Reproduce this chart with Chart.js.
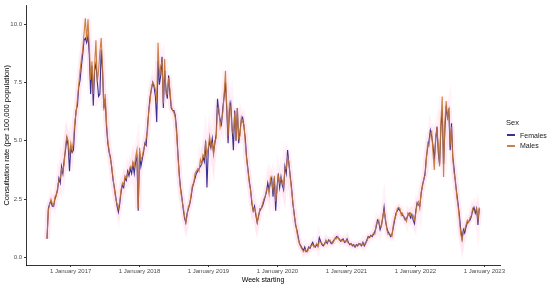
<!DOCTYPE html>
<html>
<head>
<meta charset="utf-8">
<script src="https://cdn.jsdelivr.net/npm/chart.js@4/dist/chart.umd.min.js"></script>
<style>
  html, body { margin: 0; padding: 0; background: #fff; }
  #wrap { position: relative; width: 550px; height: 285px; }
  #legend { position: absolute; left: 506px; top: 118px; font-family: "Liberation Sans", Arial, sans-serif; font-size: 7px; color: #1a1a1a; }
  #legend .ttl { margin-bottom: 3px; font-size: 7.5px; }
  #legend .row { display: flex; align-items: center; height: 10.5px; }
  #legend .key { display: inline-block; width: 8px; height: 2px; margin: 0 5px 0 1px; }
</style>
</head>
<body>
<div id="wrap">
  <canvas id="chart" width="550" height="285"></canvas>
  <div id="legend"></div>
</div>
<script>
// 週の開始日（最初のデータ点）
const weekStart = '2016-08-29';

// 目盛り
const tickDates = ['2017-01-01', '2018-01-01', '2019-01-01', '2020-01-01', '2021-01-01', '2022-01-01', '2023-01-01'];
const tickLabels = ['1 January 2017', '1 January 2018', '1 January 2019', '1 January 2020', '1 January 2021', '1 January 2022', '1 January 2023'];
const yTicks = [0, 2.5, 5, 7.5, 10];

const seriesNames = ['Females', 'Males'];

// 女性（週ごと）
const females = [
  0.8, 2.1, 2.3, 2.4, 2.2, 2.2, 2.5, 2.7, 2.9, 3.4,
  3.2, 3.9, 3.6, 4.2, 4.6, 5.1, 4.8, 3.7, 4.7, 4.5,
  4.6, 5.6, 6.3, 6.5, 7.3, 7.6, 8.2, 8.7, 9.3, 9.4,
  9.2, 9.5, 8.7, 7.0, 8.2, 6.5, 8.0, 8.3, 7.6, 6.9,
  7.0, 8.9, 8.0, 6.4, 6.8, 5.6, 4.9, 4.5, 4.3, 3.8,
  3.3, 3.0, 2.6, 2.2, 1.95, 2.3, 2.8, 3.1, 3.0, 3.4,
  3.3, 3.7, 3.5, 3.8, 3.6, 4.0, 3.6, 4.1, 4.3, 2.0,
  4.5, 3.9, 4.2, 4.5, 4.9, 4.8, 5.6, 6.3, 6.9, 7.2,
  7.5, 7.3, 6.9, 5.8, 8.4, 7.4, 7.8, 8.6, 6.4, 8.0,
  7.2, 6.8, 7.8, 7.0, 6.4, 6.3, 6.3, 6.1, 5.5, 4.5,
  3.6, 3.0, 2.6, 2.1, 1.7, 1.5, 1.9, 2.1, 2.3, 2.6,
  3.0, 3.2, 3.4, 3.6, 3.7, 3.8, 3.9, 4.0, 4.3, 4.1,
  5.0, 3.0, 4.6, 5.0, 4.7, 5.1, 4.5, 4.9, 5.3, 6.8,
  6.2, 5.9, 5.7, 6.4, 6.9, 7.5, 6.3, 4.9, 6.3, 6.6,
  5.6, 4.6, 6.3, 5.0, 6.4, 4.9, 5.4, 5.9, 6.0, 5.6,
  5.1, 4.3, 3.8, 3.3, 2.9, 2.3, 2.0, 2.2, 1.8, 1.5,
  1.8, 2.0, 2.1, 2.2, 2.4, 2.6, 2.8, 3.2, 2.9, 3.2,
  3.4, 2.6, 3.4, 2.0, 3.0, 3.6, 3.0, 3.45, 3.1, 2.9,
  3.9, 3.6, 4.6, 4.0, 3.5, 3.0, 2.3, 1.9, 1.4, 1.2,
  0.9, 0.6, 0.5, 0.4, 0.3, 0.45, 0.25, 0.3, 0.45, 0.4,
  0.55, 0.65, 0.5, 0.45, 0.55, 0.5, 0.85, 0.7, 0.55, 0.5,
  0.6, 0.7, 0.6, 0.75, 0.7, 0.6, 0.65, 0.75, 0.8, 0.9,
  0.85, 0.8, 0.7, 0.75, 0.8, 0.65, 0.7, 0.8, 0.65, 0.55,
  0.6, 0.5, 0.55, 0.45, 0.55, 0.5, 0.6, 0.55, 0.5, 0.65,
  0.5, 0.6, 0.75, 0.9, 0.85, 0.95, 0.9, 1.0, 1.1, 1.3,
  1.6, 1.5, 1.2, 1.4, 1.7, 2.15, 1.6, 1.3, 1.1, 1.0,
  0.9, 1.0, 1.3, 1.6, 1.9, 2.0, 2.1, 2.0, 1.9, 1.8,
  1.75, 1.6, 1.65, 1.8, 1.9, 1.7, 1.85, 1.6, 1.45, 2.0,
  2.35, 2.25, 2.2, 2.7, 3.1, 3.3, 3.6, 4.3, 4.7, 5.0,
  5.45, 5.2, 4.8, 4.2, 5.0, 5.6, 4.5, 4.0, 5.6, 6.3,
  4.0, 5.5, 6.5, 6.0, 6.3, 4.6, 5.75, 4.3, 3.8, 3.2,
  2.75, 2.3, 1.8, 1.2, 0.8, 1.2, 1.05, 1.3, 1.5, 1.55,
  1.6, 1.75, 2.0, 2.15, 1.9, 2.1, 1.4, 2.1
];

// 男性（週ごと）
const males = [
  0.8, 2.0, 2.3, 2.5, 2.3, 2.2, 2.6, 2.6, 3.0, 3.3,
  3.4, 3.8, 3.7, 4.0, 4.8, 5.2, 5.0, 4.3, 4.9, 4.6,
  5.0, 5.8, 6.2, 6.8, 7.4, 8.0, 8.5, 8.9, 9.6, 10.25,
  9.3, 10.2, 9.0, 7.6, 8.4, 7.0, 8.2, 9.3, 7.5, 8.0,
  8.8, 9.4, 8.2, 6.3, 7.0, 5.8, 5.0, 4.6, 4.2, 3.9,
  3.4, 2.9, 2.5, 2.3, 2.1, 2.4, 2.9, 3.2, 3.1, 3.5,
  3.4, 3.6, 3.7, 3.9, 3.8, 4.1, 3.9, 4.3, 4.6, 2.1,
  4.7, 4.2, 4.3, 4.6, 4.8, 5.1, 5.4, 6.3, 6.7, 7.3,
  7.5, 7.4, 7.2, 6.7, 9.2, 7.7, 8.2, 8.4, 6.6, 8.5,
  7.0, 7.0, 7.7, 7.2, 6.5, 6.3, 6.2, 6.0, 5.3, 4.4,
  3.5, 2.9, 2.5, 2.2, 1.8, 1.5, 1.8, 2.2, 2.3, 2.7,
  3.1, 3.2, 3.6, 3.7, 3.8, 3.7, 4.2, 4.0, 4.4, 4.3,
  4.9, 4.4, 4.7, 5.2, 4.8, 4.9, 4.4, 5.0, 5.1, 6.4,
  6.4, 5.6, 5.9, 6.2, 7.0, 8.0, 6.5, 5.2, 6.6, 6.4,
  5.4, 5.3, 6.2, 5.0, 6.4, 5.1, 5.2, 6.0, 5.8, 5.7,
  4.9, 4.2, 3.7, 3.2, 2.9, 2.4, 2.0, 2.1, 1.9, 1.5,
  1.7, 2.1, 2.1, 2.3, 2.5, 2.6, 2.9, 3.0, 2.7, 3.4,
  3.2, 2.9, 3.5, 2.4, 2.9, 3.5, 3.2, 3.4, 3.3, 3.0,
  3.8, 3.8, 4.3, 4.1, 3.4, 2.9, 2.4, 1.8, 1.5, 1.1,
  0.8, 0.6, 0.45, 0.35, 0.25, 0.35, 0.3, 0.25, 0.4, 0.45,
  0.5, 0.55, 0.45, 0.5, 0.6, 0.45, 0.7, 0.65, 0.6, 0.55,
  0.55, 0.75, 0.65, 0.7, 0.75, 0.65, 0.6, 0.7, 0.85, 0.8,
  0.9, 0.75, 0.75, 0.7, 0.75, 0.7, 0.65, 0.75, 0.6, 0.6,
  0.55, 0.55, 0.5, 0.5, 0.5, 0.55, 0.55, 0.6, 0.55, 0.6,
  0.55, 0.65, 0.7, 0.85, 0.9, 0.9, 0.95, 1.05, 1.0, 1.4,
  1.5, 1.6, 1.3, 1.3, 1.8, 2.0, 1.7, 1.2, 1.0, 1.05,
  0.95, 0.9, 1.4, 1.7, 1.8, 2.1, 2.15, 2.1, 1.8, 1.9,
  1.7, 1.7, 1.55, 1.9, 1.8, 1.9, 1.7, 1.8, 1.6, 1.9,
  2.3, 2.4, 2.1, 2.8, 3.0, 3.4, 3.5, 4.2, 4.9, 4.8,
  5.3, 5.4, 4.5, 3.75, 5.2, 5.5, 4.8, 3.9, 5.8, 6.9,
  3.45, 5.8, 6.7, 5.9, 6.4, 4.8, 5.6, 4.2, 3.6, 3.3,
  2.6, 2.2, 1.6, 1.0, 0.75, 1.1, 1.2, 1.4, 1.6, 1.5,
  1.7, 1.8, 2.1, 2.0, 2.0, 2.1, 1.6, 2.15
];

const colors = {
  females: '#3b2f92',
  males: 'rgba(196, 118, 48, 0.9)',
  band: 'rgba(255, 160, 205, 0.12)',
  text: '#4d4d4d',
  axis: '#000'
};
const FONT = '"Liberation Sans", Arial, sans-serif';

// 開始日からの週数
const toWeek = d => (Date.parse(d) - Date.parse(weekStart)) / (7 * 86400000);
const toPoints = arr => arr.map((v, i) => ({ x: i, y: v }));

const lineBase = { pointRadius: 0, tension: 0, fill: false };

new Chart(document.getElementById('chart'), {
  type: 'line',
  data: {
    datasets: [
      { ...lineBase, label: seriesNames[1], data: toPoints(males), borderColor: colors.males, borderWidth: 1.1, order: 0 },
      { ...lineBase, label: seriesNames[0], data: toPoints(females), borderColor: colors.females, borderWidth: 1.1, order: 1 },
      { ...lineBase, label: 'band-m', data: toPoints(males), borderColor: colors.band, borderWidth: 6, order: 2 },
      { ...lineBase, label: 'band-f', data: toPoints(females), borderColor: colors.band, borderWidth: 6, order: 3 }
    ]
  },
  options: {
    responsive: false,
    animation: false,
    devicePixelRatio: 1,
    layout: { padding: { top: 5, right: 50, bottom: 0, left: 0 } },
    plugins: { legend: { display: false }, tooltip: { enabled: false } },
    scales: {
      x: {
        type: 'linear',
        min: -15.9,
        max: 342.7,
        afterBuildTicks: s => { s.ticks = tickDates.map(d => ({ value: toWeek(d) })); },
        afterFit: s => { s.height = 20; },
        ticks: {
          autoSkip: false,
          maxRotation: 0,
          padding: 1,
          color: colors.text,
          font: { family: FONT, size: 6 },
          callback: (v, i) => tickLabels[i]
        },
        grid: { drawOnChartArea: false, tickLength: 2, color: '#333' },
        border: { color: colors.axis, width: 0.8 },
        title: { display: true, text: 'Week starting', color: '#000', padding: { top: 0, bottom: 1 }, font: { family: FONT, size: 7 } }
      },
      y: {
        min: -0.32,
        max: 10.79,
        afterBuildTicks: s => { s.ticks = yTicks.map(v => ({ value: v })); },
        afterFit: s => { s.width = 26; },
        ticks: {
          padding: 2,
          color: colors.text,
          font: { family: FONT, size: 6 },
          callback: v => v.toFixed(1)
        },
        grid: { drawOnChartArea: false, tickLength: 2, color: '#333' },
        border: { color: colors.axis, width: 0.8 },
        title: { display: true, text: 'Consultation rate (per 100,000 population)', color: '#000', padding: { top: 2, bottom: 0 }, font: { family: FONT, size: 7.5 } }
      }
    }
  }
});

// 凡例
const legend = document.getElementById('legend');
legend.innerHTML = '<div class="ttl">Sex</div>' +
  [colors.females, colors.males].map((c, i) =>
    `<div class="row"><span class="key" style="background:${c}"></span>${seriesNames[i]}</div>`).join('');
</script>
</body>
</html>
